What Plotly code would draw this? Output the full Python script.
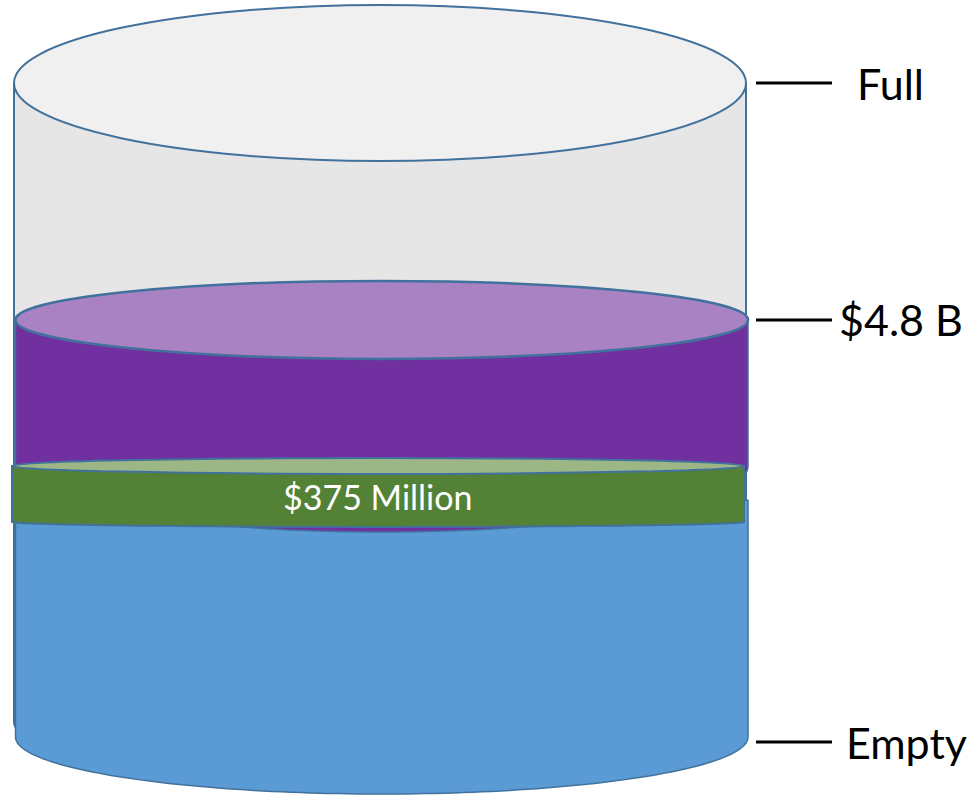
import numpy as np
import plotly.graph_objects as go

# ---- data (levels in % of full tank) ----
level_labels = ["Full", "$4.8 B", "Empty"]
level_values = [100, 64.0, 0]
band_label = "$375 Million"
band_top = 41.8      # top of the $375 M band
band_bottom = 33.3   # bottom of the $375 M band
water_top = 36.6     # top of the base (blue) fill

# ---- layout constants (pixels, page coordinates) ----
W, H = 970, 796
FULL_PX, EMPTY_PX = 83, 741
K = (EMPTY_PX - FULL_PX) / 100.0
def ypx(v):
    return EMPTY_PX - v * K

OUT = "#41719c"

def path(pts):
    s = "M %.2f,%.2f " % pts[0]
    s += " ".join("L %.2f,%.2f" % p for p in pts[1:])
    return s + " Z"

def body(x0, x1, ytop, ybot, ry_bot, ry_top=0):
    cx, rx = (x0 + x1) / 2, (x1 - x0) / 2
    pts = [(x0, ytop), (x0, ybot)]
    pts += [(cx + rx * np.cos(t), ybot + ry_bot * np.sin(t)) for t in np.linspace(np.pi, 0, 120)]
    pts += [(x1, ytop)]
    if ry_top:
        pts += [(cx + rx * np.cos(t), ytop + ry_top * np.sin(t)) for t in np.linspace(0, np.pi, 120)]
    return path(pts)

def ellipse(x0, x1, yc, ry, fill, lw=2):
    return dict(type="circle", xref="x", yref="y", x0=x0, x1=x1, y0=yc - ry, y1=yc + ry,
                fillcolor=fill, line=dict(color=OUT, width=lw), layer="above")

shapes = []
# outer tank body
shapes.append(dict(type="path", path=body(14, 746, FULL_PX, 722, 57), fillcolor="#e6e6e6",
                   line=dict(color=OUT, width=2), layer="above"))
# base (blue) fill
shapes.append(dict(type="path", path=body(15.5, 748, ypx(water_top), 737, 57), fillcolor="#5b9bd5",
                   line=dict(color=OUT, width=1.5), layer="above"))
# purple fill
yp = ypx(level_values[1])
yg0, yg1 = ypx(band_top), ypx(band_bottom)
shapes.append(dict(type="path", path=body(15.5, 748, yp, yg0, 66), fillcolor="#7030a0",
                   line=dict(color=OUT, width=1.5), layer="above"))
shapes.append(ellipse(15.5, 748, yp, 39, "#a982c4", 2.5))
# green band
shapes.append(dict(type="path", path=body(12, 744, yg0, yg1, 5), fillcolor="#538135",
                   line=dict(color=OUT, width=2), layer="above"))
shapes.append(ellipse(12, 744, yg0, 8, "#9cb686", 2))
# tank top
shapes.append(ellipse(14, 746, FULL_PX, 78, "#f0f0f0", 2))

# label ticks
label_x = [855, 837, 844]
annotations = []
for lab, v, lx in zip(level_labels, level_values, label_x):
    y = ypx(v) + (0 if v > 0 else 1)
    shapes.append(dict(type="line", xref="x", yref="y", x0=756, x1=832, y0=y, y1=y,
                       line=dict(color="black", width=3), layer="above"))
    annotations.append(dict(x=lx, y=y, xref="x", yref="y", text=lab, showarrow=False,
                            xanchor="left", yanchor="middle",
                            font=dict(family="Lato", size=43, color="black")))
annotations.append(dict(x=378, y=(yg0 + yg1) / 2 + 3, xref="x", yref="y", text=band_label,
                        showarrow=False, xanchor="center", yanchor="middle",
                        font=dict(family="Lato", size=34, color="white")))

fig = go.Figure()
fig.add_trace(go.Scatter(x=[0, W], y=[0, H], mode="markers", marker=dict(opacity=0),
                         hoverinfo="skip", showlegend=False))
fig.update_layout(
    width=W, height=H, margin=dict(l=0, r=0, t=0, b=0),
    paper_bgcolor="white", plot_bgcolor="white",
    xaxis=dict(range=[0, W], visible=False, fixedrange=True),
    yaxis=dict(range=[H, 0], visible=False, fixedrange=True),
    shapes=shapes, annotations=annotations, showlegend=False,
)
fig.write_html("out.html", config={"displayModeBar": False},
               post_script="document.body.style.margin='0';document.body.style.overflow='hidden';")
